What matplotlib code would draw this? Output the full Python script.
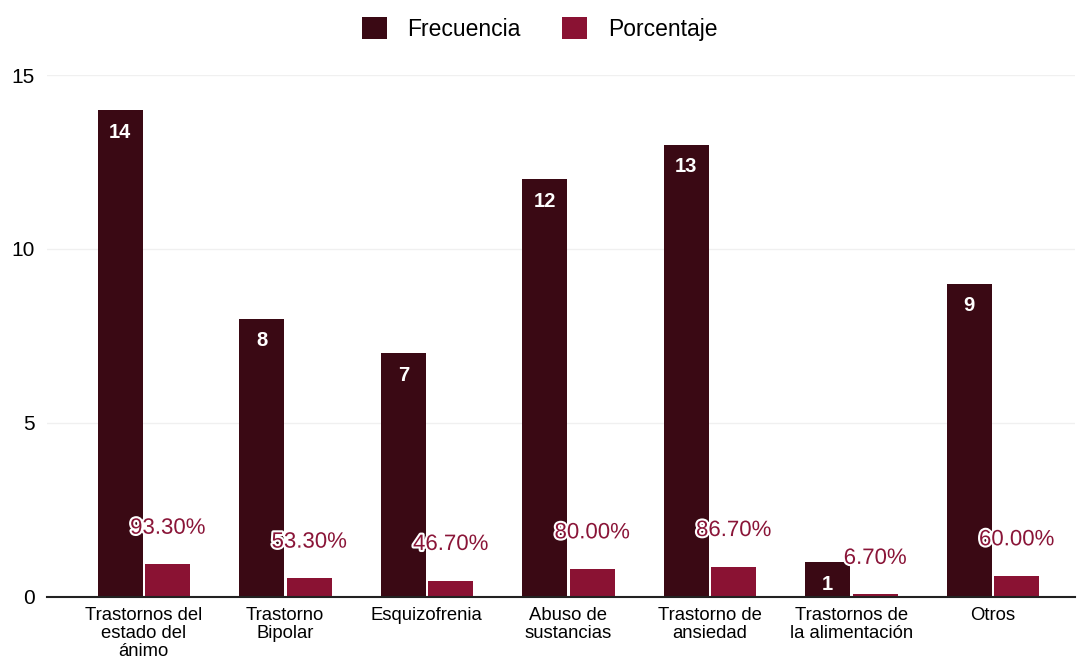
import matplotlib.pyplot as plt
import matplotlib.patheffects as pe
import numpy as np

plt.rcParams['font.family'] = ['Liberation Sans', 'DejaVu Sans']

categorias = ["Trastornos del\nestado del\nánimo", "Trastorno\nBipolar", "Esquizofrenia",
              "Abuso de\nsustancias", "Trastorno de\nansiedad",
              "Trastornos de\nla alimentación", "Otros"]
frecuencia = [14, 8, 7, 12, 13, 1, 9]
porcentaje = [93.3, 53.3, 46.7, 80.0, 86.7, 6.7, 60.0]

c_frec = '#3a0914'
c_porc = '#8a1233'
c_text = '#8a1538'

fig = plt.figure(figsize=(10.79, 6.58), dpi=100)
ax = fig.add_axes([0.044, 0.093, 0.952, 0.793])

x = np.arange(len(categorias))
w = 0.32
b1 = ax.bar(x - 0.165, frecuencia, w, color=c_frec, label='Frecuencia', zorder=3)
b2 = ax.bar(x + 0.17, [p / 100 for p in porcentaje], w, color=c_porc, label='Porcentaje', zorder=3)

for rect, v in zip(b1, frecuencia):
    ax.annotate(str(v), (rect.get_x() + rect.get_width() / 2, rect.get_height()),
                xytext=(0, -16), textcoords='offset points', ha='center', va='center',
                color='white', fontsize=14.5, fontweight='bold', zorder=5)

for rect, p in zip(b2, porcentaje):
    ax.annotate('%.2f%%' % p, (rect.get_x() + rect.get_width() / 2, rect.get_height()),
                xytext=(0, 26), textcoords='offset points', ha='center', va='center',
                color=c_text, fontsize=16, zorder=6,
                path_effects=[pe.withStroke(linewidth=3, foreground='white')])

ax.set_ylim(0, 15)
ax.set_xlim(-0.68, 6.58)
ax.set_yticks([0, 5, 10, 15])
ax.set_xticks(x)
ax.set_xticklabels(categorias, fontsize=13.3, linespacing=1.1)
ax.tick_params(axis='y', length=0, labelsize=15, pad=9)
ax.tick_params(axis='x', length=0, pad=7)
ax.grid(axis='y', color='#f0f0f0', linewidth=1, zorder=0)
for s in ['left', 'right', 'top']:
    ax.spines[s].set_visible(False)
ax.spines['bottom'].set_color('#222222')
ax.spines['bottom'].set_linewidth(1.5)
ax.spines['bottom'].set_zorder(4)

fig.legend(handles=[b1, b2], loc='upper center', bbox_to_anchor=(0.5, 1.005), ncol=2,
           frameon=False, fontsize=16.5, handlelength=1.1, handleheight=1.1,
           columnspacing=1.8, handletextpad=0.9)

fig.savefig('out.png', dpi=100)
